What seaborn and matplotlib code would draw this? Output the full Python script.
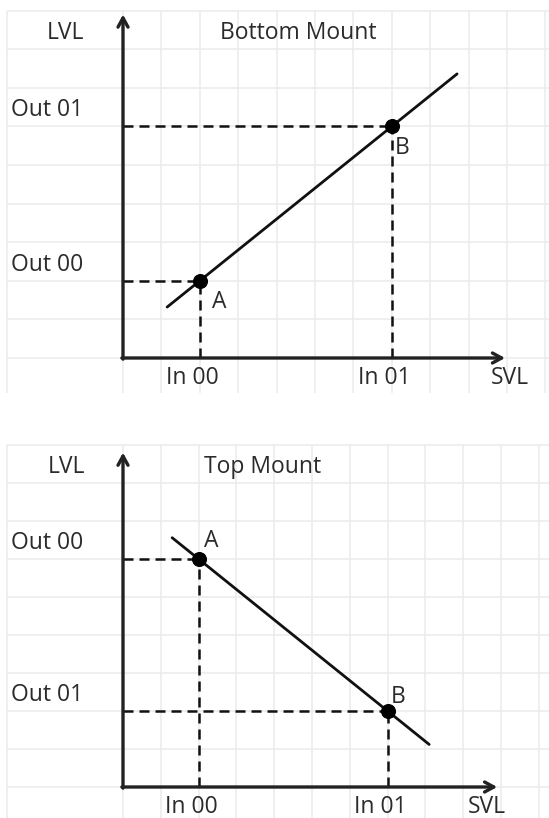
import numpy as np
import pandas as pd
import matplotlib
matplotlib.use("Agg")
import matplotlib.pyplot as plt
import seaborn as sns

sns.set_theme(style="white")
plt.rcParams['font.family'] = ['Open Sans', 'DejaVu Sans']

# ---- data ----
panel_titles = ["Bottom Mount", "Top Mount"]
point_names = ["A", "B"]
in_values = [2, 7]                   # In 00, In 01 (grid units)
bottom_out = [2, 6]                  # Out 00, Out 01 for bottom mount
top_out = [6, 2]                     # Out 00, Out 01 for top mount
x_tick_labels = ["In 00", "In 01"]
bottom_y_labels = ["Out 00", "Out 01"]
top_y_labels = ["Out 00", "Out 01"]
line_ext_bottom = [1.15, 8.7]        # x extent of the characteristic line
line_ext_top = [1.3, 8.1]

W, H = 549, 818
fig = plt.figure(figsize=(W / 100, H / 100), dpi=100)

def add_px_axes(x0, y0, x1, y1):
    return fig.add_axes([x0 / W, 1 - y1 / H, (x1 - x0) / W, (y1 - y0) / H])

panels = [
    dict(rect=(0, 0, 549, 400), org=(123, 358), cw=38.4, ch=38.6,
         grid_bottom=393, out=bottom_out, ylabels=bottom_y_labels,
         ext=line_ext_bottom, title_x=4.56, ymax_arrow=8.9, xmax_arrow=9.95,
         svl_px=510, lab_off=[(0.5, -0.55), (0.28, -0.55)]),
    dict(rect=(0, 410, 549, 818), org=(123, 787), cw=37.8, ch=38.0,
         grid_bottom=818, out=top_out, ylabels=top_y_labels,
         ext=line_ext_top, title_x=3.68, ymax_arrow=8.8, xmax_arrow=9.9,
         svl_px=487, lab_off=[(0.34, 0.47), (0.29, 0.37)]),
]

ink = "#111111"
txt = "#2b2b2b"
gridc = "#ececec"
FS = 16.5

for p, title in zip(panels, panel_titles):
    x0, y0, x1, y1 = p["rect"]
    ax = add_px_axes(x0, y0, x1, y1)
    ox, oy = p["org"]
    cw, ch = p["cw"], p["ch"]
    ax.set_xlim((x0 - ox) / cw, (x1 - ox) / cw)
    ax.set_ylim((oy - y1) / ch, (oy - y0) / ch)

    # spreadsheet grid
    gx_left = (7 - ox) / cw
    gy_bot = (oy - p["grid_bottom"]) / ch
    xmax = (x1 - ox) / cw
    for gy in range(0, 10):
        ax.hlines(gy, gx_left, xmax, color=gridc, lw=1.2, zorder=0)
    for gx in [gx_left] + list(range(0, 12)):
        ax.vlines(gx, gy_bot, 9, color=gridc, lw=1.2, zorder=0)

    # axes arrows
    ax.annotate("", xy=(0, p["ymax_arrow"]), xytext=(0, -0.03),
                arrowprops=dict(arrowstyle="->,head_length=0.55,head_width=0.3",
                                lw=2.4, color="#222222", shrinkA=0, shrinkB=0))
    ax.annotate("", xy=(p["xmax_arrow"], 0), xytext=(-0.03, 0),
                arrowprops=dict(arrowstyle="->,head_length=0.55,head_width=0.3",
                                lw=2.4, color="#222222", shrinkA=0, shrinkB=0))

    # dashed projections
    for xi, yi in zip(in_values, p["out"]):
        ax.plot([0, xi], [yi, yi], ls=(0, (4, 2.4)), color=ink, lw=1.8, zorder=2)
        ax.plot([xi, xi], [0, yi], ls=(0, (4, 2.4)), color=ink, lw=1.8, zorder=2)

    # characteristic line
    slope = (p["out"][1] - p["out"][0]) / (in_values[1] - in_values[0])
    lx = np.array(p["ext"])
    ly = p["out"][0] + slope * (lx - in_values[0])
    df_line = pd.DataFrame({"x": lx, "y": ly})
    sns.lineplot(data=df_line, x="x", y="y", ax=ax, color=ink, lw=2.0, zorder=3)

    df_pts = pd.DataFrame({"x": in_values, "y": p["out"]})
    sns.scatterplot(data=df_pts, x="x", y="y", ax=ax, color="black", s=100,
                    edgecolor="black", zorder=4)
    ax.axis("off")

    kw = dict(fontsize=FS, color=txt, fontweight="medium")
    for name, xi, yi, off in zip(point_names, in_values, p["out"], p["lab_off"]):
        ax.text(xi + off[0], yi + off[1], name, ha="center", va="center", **kw)

    for lab, yi in zip(p["ylabels"], p["out"]):
        ax.text((11 - ox) / cw, yi + 0.42, lab, ha="left", va="center", **kw)
    for lab, xi in zip(x_tick_labels, in_values):
        ax.text(xi - 0.2, -0.53, lab, ha="center", va="center", **kw)
    ax.text((p["svl_px"] - ox) / cw, -0.53, "SVL", ha="center", va="center", **kw)
    ax.text(-1.5, 8.42, "LVL", ha="center", va="center", **kw)
    ax.text(p["title_x"], 8.42, title, ha="center", va="center", **kw)

fig.savefig("out.png", dpi=100)
